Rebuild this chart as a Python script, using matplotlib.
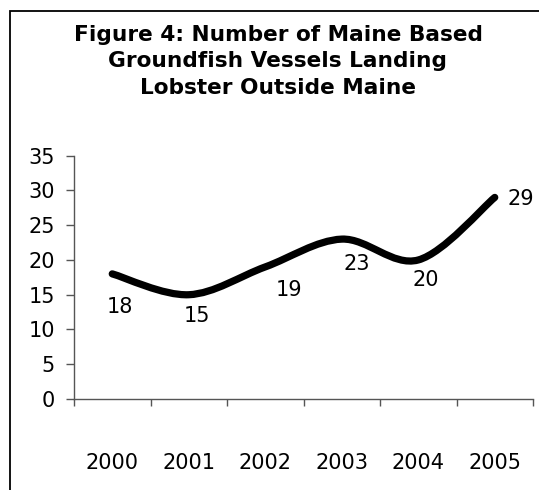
import numpy as np
import matplotlib.pyplot as plt
from matplotlib.path import Path
from matplotlib.patches import PathPatch, Rectangle

years = ['2000', '2001', '2002', '2003', '2004', '2005']
vessels = [18, 15, 19, 23, 20, 29]
y_ticks = [0, 5, 10, 15, 20, 25, 30, 35]
title = "Figure 4: Number of Maine Based\nGroundfish Vessels Landing\nLobster Outside Maine"

# label offsets in pixels (right, down) - they were dragged by hand in the original
label_offsets = [(8, 33), (8, 21), (24, 23), (15, 25), (8, 20), (26, 2)]

W, H = 539, 490
PX = 0.72  # points per pixel at dpi 100


def smooth_path(xs, ys):
    # excel style smoothed line: cubic bezier with neighbour tangents / 6
    pts = np.column_stack([xs, ys]).astype(float)
    n = len(pts)
    verts = [pts[0]]
    codes = [Path.MOVETO]
    for i in range(n - 1):
        p_prev = pts[max(i - 1, 0)]
        p_next2 = pts[min(i + 2, n - 1)]
        c1 = pts[i] + (pts[i + 1] - p_prev) / 6
        c2 = pts[i + 1] - (p_next2 - pts[i]) / 6
        verts += [c1, c2, pts[i + 1]]
        codes += [Path.CURVE4] * 3
    return Path(verts, codes)


plt.rcParams['font.family'] = 'DejaVu Sans'

fig = plt.figure(figsize=(W / 100, H / 100), dpi=100)

# chart border (runs off the right and bottom of the picture)
fig.patches.append(Rectangle((10 / W, -0.1), 1.2, 1 - 11 / H + 0.1,
                             transform=fig.transFigure, fill=False,
                             edgecolor='black', linewidth=1.3))

fig.text(278 / W, 1 - 25 / H, title, ha='center', va='top', fontsize=15.6,
         fontweight='bold', linespacing=1.4, multialignment='center')

ax = fig.add_axes([74 / W, 1 - 399 / H, (533 - 74) / W, (399 - 155.7) / H])
ax.set_facecolor('none')

x = np.arange(len(years)) + 0.5
ax.add_patch(PathPatch(smooth_path(x, vessels), facecolor='none',
                       edgecolor='black', linewidth=5.2, capstyle='round',
                       joinstyle='round'))

for xi, v, (dx, dy) in zip(x, vessels, label_offsets):
    ax.annotate(str(v), (xi, v), xytext=(dx * PX, -dy * PX),
                textcoords='offset points', ha='center', va='center',
                fontsize=15)

ax.set_xlim(0, len(years))
ax.set_ylim(0, 35)
ax.set_yticks(y_ticks)
ax.set_xticks(np.arange(len(years) + 1))
ax.set_xticklabels([])
ax.set_xticks(x, minor=True)
ax.set_xticklabels(years, minor=True)

for s in ['top', 'right']:
    ax.spines[s].set_visible(False)
for s in ['left', 'bottom']:
    ax.spines[s].set_color('#555555')
    ax.spines[s].set_linewidth(1.0)

ax.tick_params(axis='y', direction='out', length=8 * PX, width=1.0,
               color='#555555', labelsize=15, pad=8)
ax.tick_params(axis='x', which='major', direction='out', length=7 * PX,
               width=1.0, color='#555555')
ax.tick_params(axis='x', which='minor', length=0, labelsize=15, pad=39)

fig.savefig('out.png', dpi=100)
